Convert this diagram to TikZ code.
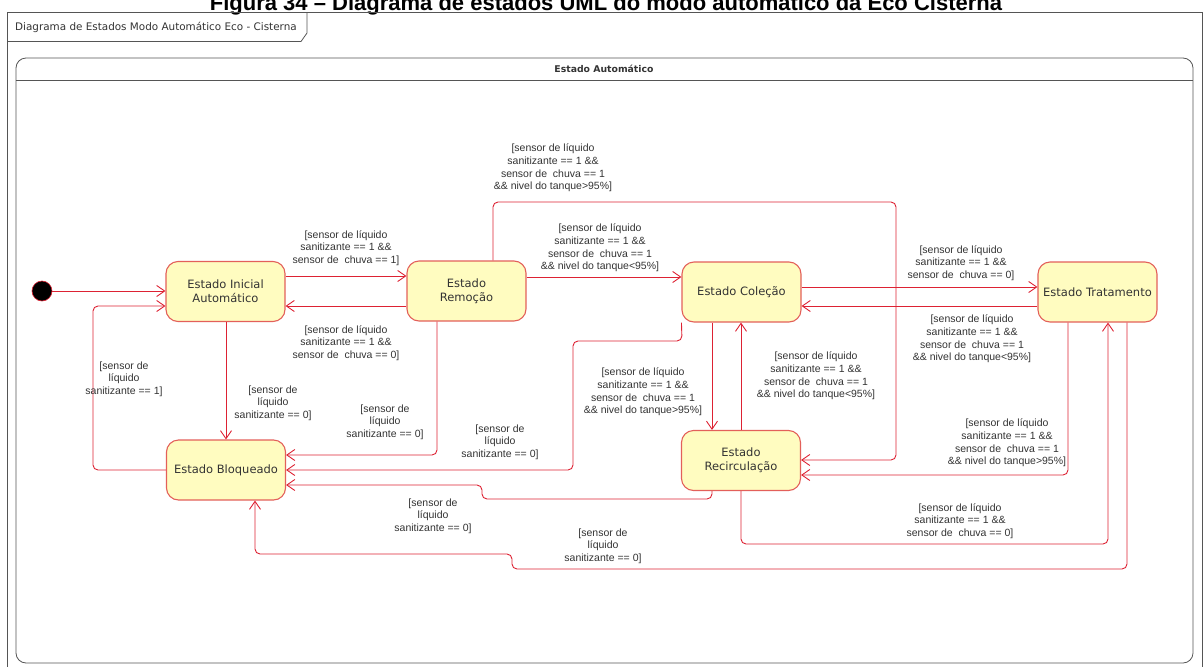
\documentclass[tikz,border=0pt]{standalone}
\usepackage{fontspec}
\setmainfont{Liberation Sans}
\newfontfamily\statefont{DejaVu Sans}
\usetikzlibrary{arrows.meta}
\definecolor{edgered}{HTML}{DD2233}
\definecolor{boxred}{HTML}{E3605A}
\definecolor{boxfill}{HTML}{FFFCC0}
\definecolor{inktext}{HTML}{333333}
\definecolor{framegray}{HTML}{555555}

\begin{document}
\begin{tikzpicture}[x=1pt,y=-1pt,
  statebox/.style={draw=boxred, fill=boxfill, line width=1.1pt, rounded corners=12pt,
    minimum width=119pt, minimum height=60pt, align=center, inner sep=0pt,
    font=\statefont\fontsize{11.5}{14}\selectfont, text=inktext},
  trans/.style={draw=edgered, line width=0.9pt, rounded corners=5pt,
    -{Straight Barb[length=8pt,width=11pt]}},
  guard/.style={align=center, inner sep=0pt, text=inktext,
    font=\fontsize{10.5}{12.7}\selectfont},
  framepen/.style={draw=framegray, line width=0.8pt},
]
\useasboundingbox (0,0) rectangle (1203,667);
\clip (0,0) rectangle (1203,667);

% caption above the diagram
\node[anchor=base, font=\bfseries\fontsize{22}{26}\selectfont] (caption) at (606,10.5)
  {Figura 34 – Diagrama de estados UML do modo automático da Eco Cisterna};

% outer diagram frame with its name tab
\draw[framepen] (7,700) -- (7,12) -- (1202,12) -- (1202,700);
\draw[framepen] (7,41.5) -- (301,41.5) -- (307,33) -- (307,12);
\node[anchor=west, inner sep=0pt, font=\statefont\fontsize{10.4}{12}\selectfont, text=inktext]
  (frametitle) at (15,27) {Diagrama de Estados Modo Automático Eco - Cisterna};

% composite state
\draw[framepen, rounded corners=10pt] (16,58) rectangle (1193,663);
\draw[framepen] (16,80) -- (1193,80);
\node[font=\statefont\bfseries\fontsize{9.3}{11}\selectfont, text=inktext] (composite) at (604,69) {Estado Automático};

% states
\node[circle, fill=black, draw=edgered, line width=0.6pt, minimum size=20pt, inner sep=0pt] (init) at (42,291) {};
\node[statebox] (ini) at (225.5,291.5) {Estado Inicial\\Automático};
\node[statebox] (rem) at (466.5,291) {Estado\\Remoção};
\node[statebox] (col) at (741.5,292) {Estado Coleção};
\node[statebox] (tra) at (1097.5,292) {Estado Tratamento};
\node[statebox] (blo) at (226,470) {Estado Bloqueado};
\node[statebox] (rec) at (741,460.5) {Estado\\Recirculação};

% transitions
\draw[trans] (init.east) -- (ini.west |- init.east);
\draw[trans] (ini.east |- 0,276) -- (rem.west |- 0,276);
\draw[trans] (rem.west |- 0,306) -- (ini.east |- 0,306);
\draw[trans] (blo.west) -- (93,470) -- (93,306) -- (ini.west |- 0,306);
\draw[trans] (ini.south -| blo.north) -- (blo.north);
\draw[trans] (rem.south -| 437,0) -- (437,455) -- (blo.east |- 0,455);
\draw[trans] (rem.east |- 0,277) -- (col.west |- 0,277);
\draw[trans] (rem.north -| 493,0) -- (493,202) -- (896,202) -- (896,460) -- (rec.east |- 0,460);
\draw[trans] (col.east |- 0,287) -- (tra.west |- 0,287);
\draw[trans] (tra.west |- 0,306) -- (col.east |- 0,306);
\draw[trans] (col.south west) -- (682,341) -- (573,341) -- (573,470) -- (blo.east |- 0,470);
\draw[trans] (col.south -| 712,0) -- (rec.north -| 712,0);
\draw[trans] (rec.north -| 741,0) -- (col.south -| 741,0);
\draw[trans] (tra.south -| 1068,0) -- (1068,475) -- (rec.east |- 0,475);
\draw[trans] (rec.south -| 712,0) -- (712,499) -- (482,499) -- (482,485) -- (blo.east |- 0,485);
\draw[trans] (rec.south -| 741,0) -- (741,544) -- (1108,544) -- (tra.south -| 1108,0);
\draw[trans] (tra.south -| 1127,0) -- (1127,569) -- (512,569) -- (512,554) -- (255,554) -- (blo.south -| 255,0);

% guards
\node[guard] (g1) at (346,248) {[sensor de líquido\\sanitizante == 1 \&\&\\sensor de\ \ chuva == 1]};
\node[guard] (g2) at (346,343) {[sensor de líquido\\sanitizante == 1 \&\&\\sensor de\ \ chuva == 0]};
\node[guard] (g3) at (124,379) {[sensor de\\líquido\\sanitizante == 1]};
\node[guard] (g4) at (273,403) {[sensor de\\líquido\\sanitizante == 0]};
\node[guard] (g5) at (385,422) {[sensor de\\líquido\\sanitizante == 0]};
\node[guard] (g6) at (600,248) {[sensor de líquido\\sanitizante == 1 \&\&\\sensor de\ \ chuva == 1\\\&\& nivel do tanque<95\%]};
\node[guard] (g7) at (553,168) {[sensor de líquido\\sanitizante == 1 \&\&\\sensor de\ \ chuva == 1\\\&\& nivel do tanque>95\%]};
\node[guard] (g8) at (961,263) {[sensor de líquido\\sanitizante == 1 \&\&\\sensor de\ \ chuva == 0]};
\node[guard] (g9) at (972,339) {[sensor de líquido\\sanitizante == 1 \&\&\\sensor de\ \ chuva == 1\\\&\& nivel do tanque<95\%]};
\node[guard] (g10) at (500,442) {[sensor de\\líquido\\sanitizante == 0]};
\node[guard] (g11) at (643,392) {[sensor de líquido\\sanitizante == 1 \&\&\\sensor de\ \ chuva == 1\\\&\& nivel do tanque>95\%]};
\node[guard] (g12) at (816,376) {[sensor de líquido\\sanitizante == 1 \&\&\\sensor de\ \ chuva == 1\\\&\& nivel do tanque<95\%]};
\node[guard] (g13) at (1007,443) {[sensor de líquido\\sanitizante == 1 \&\&\\sensor de\ \ chuva == 1\\\&\& nivel do tanque>95\%]};
\node[guard] (g14) at (433,516) {[sensor de\\líquido\\sanitizante == 0]};
\node[guard] (g15) at (960,521) {[sensor de líquido\\sanitizante == 1 \&\&\\sensor de\ \ chuva == 0]};
\node[guard] (g16) at (603,546) {[sensor de\\líquido\\sanitizante == 0]};
\end{tikzpicture}
\end{document}
